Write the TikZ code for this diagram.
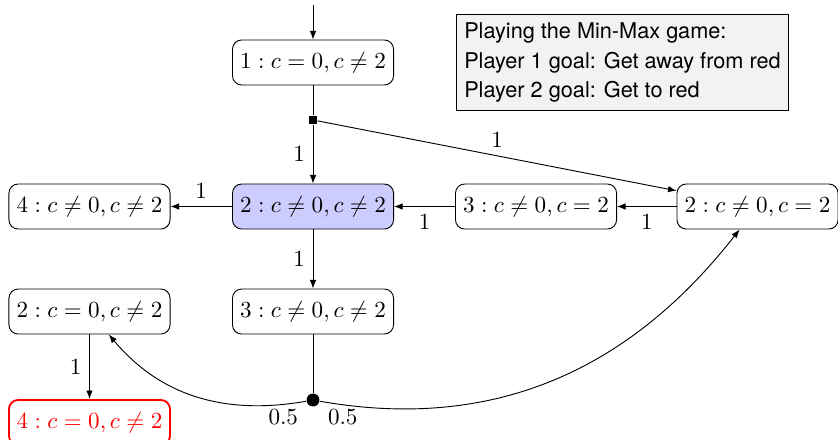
\documentclass[tikz,border=0pt]{standalone}
\usepackage{amsmath,amssymb}
\usepackage{fontspec}
\setsansfont{TeX Gyre Heros}
\usepackage{tikz}
\usetikzlibrary{arrows.meta,positioning,calc}

\begin{document}
\begin{tikzpicture}[
  x=1cm,y=1cm,
  state/.style={draw, rounded corners, minimum height=19.5pt, inner sep=3.33pt},
  junc/.style={fill, inner sep=0pt, minimum size=3.6pt},
  chance/.style={circle, fill, inner sep=0pt, minimum size=5.6pt},
  info/.style={draw, fill=gray!10, align=left, inner sep=3.33pt, font=\fontsize{9.4}{12.8}\selectfont\sffamily},
  arr/.style={-{Latex[length=1.3mm,width=1mm]}}
]
\useasboundingbox (0,0) rectangle (12.754,-6.682);
\coordinate (entry) at (4.764,-0.076);
\node[state] (s1) at (4.764,-0.951) {$1: c=0, c\neq 2$};
\node[junc] (pick) at (4.764,-1.826) {};
\node[state, fill=blue!20] (s2) at (4.764,-3.143) {$2: c\neq 0, c\neq 2$};
\node[state] (s4) at (1.362,-3.143) {$4: c\neq 0, c\neq 2$};
\node[state] (s3) at (8.158,-3.143) {$3: c\neq 0, c=2$};
\node[state] (s2r) at (11.529,-3.143) {$2: c\neq 0, c=2$};
\node[state] (s2l) at (1.362,-4.741) {$2: c=0, c\neq 2$};
\node[state] (s3b) at (4.764,-4.741) {$3: c\neq 0, c\neq 2$};
\node[state, draw=red, text=red, thick] (goal) at (1.362,-6.43) {$4: c=0, c\neq 2$};
\node[chance] (toss) at (4.764,-6.088) {};
\node[info] (rules) at (9.474,-0.951) {Playing the Min-Max game:\\Player 1 goal: Get away from red\\Player 2 goal: Get to red};
\draw[arr] (entry) -- (s1); \draw (s1) -- (pick); \draw[arr] (pick) -- node[left]{$1$} (s2); \draw[arr] (pick) -- node[above]{$1$} (s2r);
\draw[arr] (s2) -- node[above]{$1$} (s4); \draw[arr] (s3) -- node[below]{$1$} (s2); \draw[arr] (s2r) -- node[below]{$1$} (s3);
\draw[arr] (s2) -- node[left]{$1$} (s3b); \draw (s3b) -- (toss); \draw[arr] (s2l) -- node[left]{$1$} (goal);
\draw[arr] (toss) to[out=190,in=-50] node[pos=0,below left]{$0.5$} (s2l);
\draw[arr] (toss) to[out=-10,in=-128] node[pos=0,below right]{$0.5$} (s2r);
\end{tikzpicture}
\end{document}
